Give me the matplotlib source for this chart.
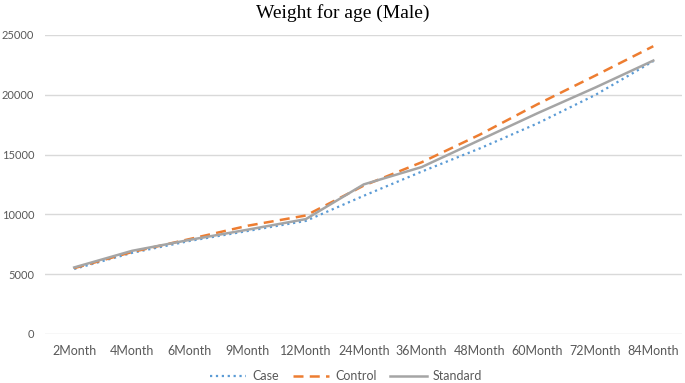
import matplotlib.pyplot as plt
import numpy as np

months = ['2Month', '4Month', '6Month', '9Month', '12Month', '24Month',
          '36Month', '48Month', '60Month', '72Month', '84Month']
case = [5430, 6780, 7780, 8610, 9450, 11550, 13570, 15500, 17600, 19980, 22800]
control = [5500, 6850, 7940, 9050, 9900, 12400, 14350, 16650, 19200, 21600, 24050]
standard = [5560, 6950, 7870, 8720, 9600, 12500, 13950, 16200, 18450, 20600, 22850]

fig = plt.figure(figsize=(6.85, 3.83), dpi=100)
ax = fig.add_axes([0.066, 0.128, 0.93, 0.781])

x = np.arange(len(months))
ax.plot(x, case, ls=':', c='#5B9BD5', lw=1.6, label='Case')
ax.plot(x, control, ls=(0, (4, 2.5)), c='#ED7D31', lw=1.8, label='Control')
ax.plot(x, standard, ls='-', c='#A5A5A5', lw=1.8, label='Standard')

ax.set_xlim(-0.5, len(months) - 0.5)
ax.set_ylim(0, 25000)
ax.set_yticks(range(0, 25001, 5000))
ax.set_xticks(x)
ax.set_xticklabels(months)
ax.grid(axis='y', color='#d9d9d9', lw=1)
ax.set_axisbelow(True)
for s in ax.spines.values():
    s.set_visible(False)
ax.tick_params(axis='x', length=0, labelsize=9, labelcolor='#595959', pad=8)
ax.tick_params(axis='y', length=0, labelsize=8, labelcolor='#595959', pad=8)
for lab in ax.get_xticklabels() + ax.get_yticklabels():
    lab.set_family('Lato')

fig.text(0.5, 0.99, 'Weight for age (Male)', ha='center', va='top',
         family='Liberation Serif', fontsize=14)
fig.legend(loc='lower center', bbox_to_anchor=(0.505, -0.028), ncol=3, frameon=False,
           prop={'family': 'Lato', 'size': 9}, labelcolor='#595959',
           handlelength=2.9, columnspacing=1.1, handletextpad=0.5)

fig.savefig('out.png')
